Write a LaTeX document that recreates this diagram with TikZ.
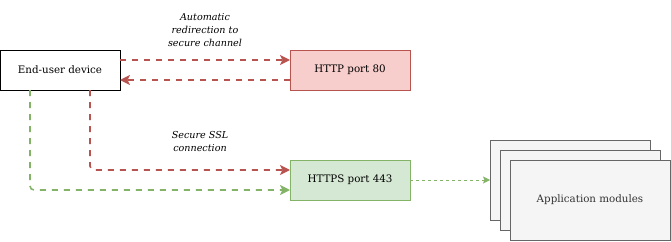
\documentclass[tikz,border=0pt]{standalone}
\usepackage{fontspec}
\setmainfont{DejaVu Serif}
\usepackage{tikz}
\usetikzlibrary{arrows.meta,positioning,calc}
\definecolor{redline}{HTML}{B85450}
\definecolor{redfill}{HTML}{F8CECC}
\definecolor{greenline}{HTML}{82B366}
\definecolor{greenfill}{HTML}{D5E8D4}
\definecolor{greyline}{HTML}{666666}
\definecolor{greyfill}{HTML}{F5F5F5}

\begin{document}
\begin{tikzpicture}[x=1pt, y=1pt,
    box/.style={rectangle, draw=black, fill=white, minimum width=120pt,
        minimum height=40pt, outer sep=0pt, font=\fontsize{10.3}{12}\selectfont},
    httpbox/.style={box, draw=redline, fill=redfill},
    httpsbox/.style={box, draw=greenline, fill=greenfill},
    appbox/.style={box, draw=greyline, fill=greyfill, minimum width=160pt,
        minimum height=80pt, text=black!80},
    redarrow/.style={draw=redline, line width=1.6pt, dash pattern=on 6pt off 6pt,
        rounded corners=4pt, -{Stealth[length=10pt, width=10pt, inset=2.5pt, fill=redline]}},
    greenarrow/.style={redarrow, draw=greenline,
        -{Stealth[length=10pt, width=10pt, inset=2.5pt, fill=greenline]}},
    thinarrow/.style={draw=greenline, line width=0.8pt, dash pattern=on 3pt off 3pt,
        -{Stealth[length=7pt, width=7pt, inset=1.5pt, fill=greenline]}},
    lbl/.style={font=\itshape\fontsize{9.6}{13}\selectfont, align=center}
]
    \useasboundingbox (0,0) rectangle (671,-241);
    \node[box] (device) at (60,-70) {End-user device};
    \node[httpbox, right=170pt of device] (http) {HTTP port 80};
    \node[httpsbox, below=70pt of http] (https) {HTTPS port 443};
    % stacked application modules
    \node[appbox] (app3) at (570,-180) {};
    \node[appbox] (app2) at (580,-190) {};
    \node[appbox] (app) at (590,-200) {Application modules};

    \draw[redarrow] ([yshift=10pt]device.east) -- node[above=9pt, lbl]{Automatic\\redirection to\\secure channel} ([yshift=10pt]http.west);
    \draw[redarrow] ([yshift=-10pt]http.west) -- ([yshift=-10pt]device.east);
    \draw[redarrow] ([xshift=30pt]device.south) |- node[pos=0.75, above=14pt, xshift=10pt, lbl]{Secure SSL\\connection} ([yshift=10pt]https.west);
    \draw[greenarrow] ([xshift=-30pt]device.south) |- ([yshift=-10pt]https.west);
    \draw[thinarrow] (https.east) -- (app3.west);
\end{tikzpicture}
\end{document}
